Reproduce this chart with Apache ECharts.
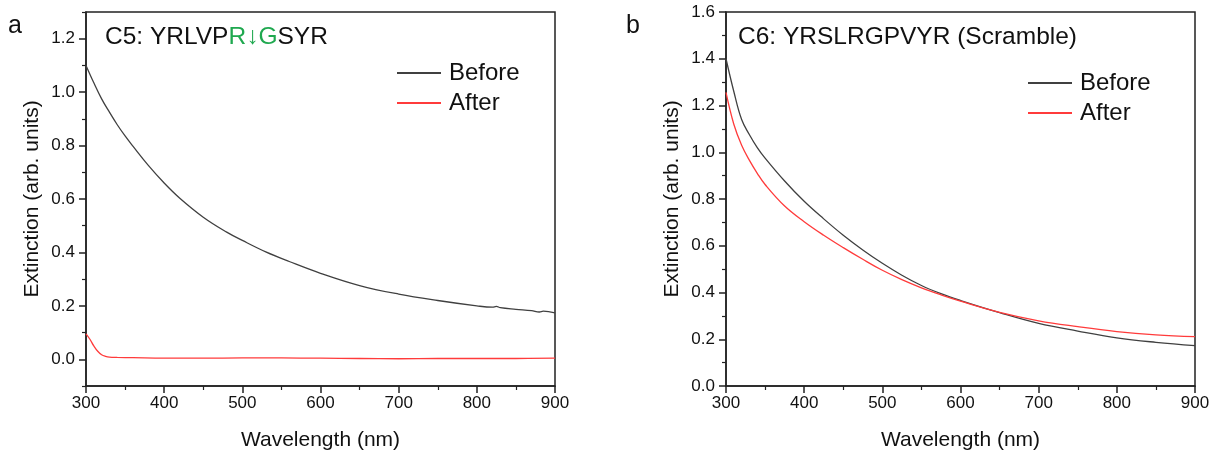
<!DOCTYPE html>
<html>
<head>
<meta charset="utf-8">
<script src="https://cdn.jsdelivr.net/npm/echarts@6/dist/echarts.min.js"></script>
<style>
  html, body { margin: 0; padding: 0; background: #fff; }
  #chart { width: 1217px; height: 456px; }
</style>
</head>
<body>
<div id="chart"></div>
<script>
  // panel a: C5 peptide, before / after
  var wlBeforeA = [300, 310, 320, 330, 340, 350, 360, 380, 400, 420, 450, 480, 500, 530, 560, 600, 650, 700, 750, 800, 820, 825, 830, 850, 870, 880, 885, 900]
  var beforeA = [1.10, 1.035, 0.975, 0.925, 0.878, 0.836, 0.798, 0.725, 0.66, 0.603, 0.532, 0.476, 0.445, 0.402, 0.366, 0.322, 0.276, 0.244, 0.22, 0.2, 0.195, 0.198, 0.193, 0.187, 0.182, 0.177, 0.18, 0.174]
  var wlAfterA = [300, 305, 310, 315, 320, 325, 330, 340, 360, 400, 450, 500, 550, 600, 650, 700, 750, 800, 850, 900]
  var afterA = [0.095, 0.075, 0.05, 0.03, 0.017, 0.011, 0.008, 0.007, 0.006, 0.004, 0.004, 0.005, 0.005, 0.004, 0.003, 0.002, 0.003, 0.003, 0.003, 0.004]

  // panel b: C6 scramble, before / after
  var wlB = [300, 310, 320, 330, 340, 350, 375, 400, 425, 450, 475, 500, 525, 550, 575, 600, 650, 700, 750, 800, 850, 900]
  var beforeB = [1.40, 1.26, 1.14, 1.075, 1.02, 0.975, 0.877, 0.79, 0.715, 0.645, 0.582, 0.525, 0.474, 0.43, 0.395, 0.366, 0.314, 0.268, 0.235, 0.206, 0.187, 0.173]
  var afterB = [1.256, 1.12, 1.03, 0.965, 0.91, 0.862, 0.77, 0.703, 0.645, 0.592, 0.542, 0.495, 0.455, 0.42, 0.39, 0.363, 0.315, 0.279, 0.254, 0.233, 0.219, 0.211]

  var yMajorA = [0, 0.2, 0.4, 0.6, 0.8, 1.0, 1.2]
  var yMinorA = [-0.1, 0.1, 0.3, 0.5, 0.7, 0.9, 1.1, 1.3]

  var FONT = "'Liberation Sans', Arial, sans-serif"
  var AXIS_COLOR = '#222'
  var GRAY = '#404040'
  var RED = '#ff3b3b'

  function pairs(xs, ys) {
    var out = []
    for (var i = 0; i < xs.length; i++) {
      out.push([xs[i], ys[i]])
    }
    return out
  }

  function xAxisFor(gridIndex) {
    return {
      type: 'value',
      gridIndex: gridIndex,
      min: 300,
      max: 900,
      interval: 100,
      name: 'Wavelength (nm)',
      nameLocation: 'middle',
      nameGap: 44,
      nameTextStyle: {fontSize: 21, fontFamily: FONT, color: '#111'},
      axisLine: {onZero: false, lineStyle: {color: AXIS_COLOR, width: 1.5}},
      axisTick: {show: true, inside: false, length: 7, lineStyle: {color: AXIS_COLOR, width: 1.5}},
      minorTick: {show: true, splitNumber: 2, length: 4, lineStyle: {color: AXIS_COLOR, width: 1.2}},
      axisLabel: {fontSize: 17, fontFamily: FONT, color: '#111', margin: 9},
      splitLine: {show: false}
    }
  }

  function lineSeries(name, xi, yi, data, color) {
    return {
      name: name,
      type: 'line',
      xAxisIndex: xi,
      yAxisIndex: yi,
      smooth: 0.4,
      symbol: 'none',
      data: data,
      lineStyle: {color: color, width: 1.3},
      itemStyle: {color: color}
    }
  }

  var legendBase = {
    orient: 'vertical',
    padding: 0,
    icon: 'rect',
    itemWidth: 44, itemHeight: 2, itemGap: 6,
    textStyle: {fontSize: 24, fontFamily: FONT, color: '#111', padding: [0, 0, 0, 3], lineHeight: 24}
  }

  var chart = echarts.init(document.getElementById('chart'))
  chart.setOption({
    animation: false,
    title: [{
      text: 'a', left: 8, top: 14, padding: 0,
      textStyle: {fontSize: 25, fontWeight: 'normal', fontFamily: FONT, color: '#111'}
    }, {
      text: 'b', left: 626, top: 14, padding: 0,
      textStyle: {fontSize: 25, fontWeight: 'normal', fontFamily: FONT, color: '#111'}
    }, {
      text: '{k|C5: YRLVP}{g|R↓G}{k|SYR}', left: 105, top: 25, padding: 0,
      textStyle: {
        fontWeight: 'normal',
        rich: {
          k: {fontSize: 24.5, fontWeight: 'normal', fontFamily: FONT, color: '#111'},
          g: {fontSize: 24.5, fontWeight: 'normal', fontFamily: FONT, color: '#1fa84f'}
        }
      }
    }, {
      text: 'C6: YRSLRGPVYR (Scramble)', left: 738, top: 25, padding: 0,
      textStyle: {fontSize: 24.5, fontWeight: 'normal', fontFamily: FONT, color: '#111'}
    }],
    legend: [
      Object.assign({}, legendBase, {data: ['Before', 'After'], left: 397, top: 61}),
      Object.assign({}, legendBase, {data: ['Before ', 'After '], left: 1028, top: 71})
    ],
    grid: [
      {left: 86, top: 12, width: 469, height: 380, show: true, borderColor: AXIS_COLOR, borderWidth: 1.5, backgroundColor: 'transparent'},
      {left: 726, top: 12, width: 469, height: 380, show: true, borderColor: AXIS_COLOR, borderWidth: 1.5, backgroundColor: 'transparent'}
    ],
    xAxis: [xAxisFor(0), xAxisFor(1)],
    yAxis: [{
      type: 'value',
      gridIndex: 0,
      position: 'left',
      min: -0.1,
      max: 1.3,
      interval: 0.1,
      name: 'Extinction (arb. units)',
      nameLocation: 'middle',
      nameGap: 43,
      nameTextStyle: {fontSize: 21, fontFamily: FONT, color: '#111'},
      axisLine: {show: true, onZero: false, lineStyle: {color: AXIS_COLOR, width: 1.5}},
      axisTick: {show: true, length: 7, customValues: yMajorA, lineStyle: {color: AXIS_COLOR, width: 1.5}},
      axisLabel: {
        fontSize: 17, fontFamily: FONT, color: '#111', margin: 11,
        customValues: yMajorA,
        formatter: function (v) { return v.toFixed(1) }
      },
      splitLine: {show: false}
    }, {
      type: 'value',
      gridIndex: 0,
      position: 'left',
      min: -0.1,
      max: 1.3,
      interval: 0.1,
      axisLine: {show: false, onZero: false},
      axisTick: {show: true, length: 4, customValues: yMinorA, lineStyle: {color: AXIS_COLOR, width: 1.2}},
      axisLabel: {show: false},
      splitLine: {show: false}
    }, {
      type: 'value',
      gridIndex: 1,
      position: 'left',
      min: 0,
      max: 1.6,
      interval: 0.2,
      name: 'Extinction (arb. units)',
      nameLocation: 'middle',
      nameGap: 43,
      nameTextStyle: {fontSize: 21, fontFamily: FONT, color: '#111'},
      axisLine: {show: true, onZero: false, lineStyle: {color: AXIS_COLOR, width: 1.5}},
      axisTick: {show: true, length: 7, lineStyle: {color: AXIS_COLOR, width: 1.5}},
      minorTick: {show: true, splitNumber: 2, length: 4, lineStyle: {color: AXIS_COLOR, width: 1.2}},
      axisLabel: {
        fontSize: 17, fontFamily: FONT, color: '#111', margin: 11,
        formatter: function (v) { return v.toFixed(1) }
      },
      splitLine: {show: false}
    }],
    series: [
      lineSeries('Before', 0, 0, pairs(wlBeforeA, beforeA), GRAY),
      lineSeries('After', 0, 0, pairs(wlAfterA, afterA), RED),
      lineSeries('Before ', 1, 2, pairs(wlB, beforeB), GRAY),
      lineSeries('After ', 1, 2, pairs(wlB, afterB), RED)
    ]
  })
</script>
</body>
</html>
